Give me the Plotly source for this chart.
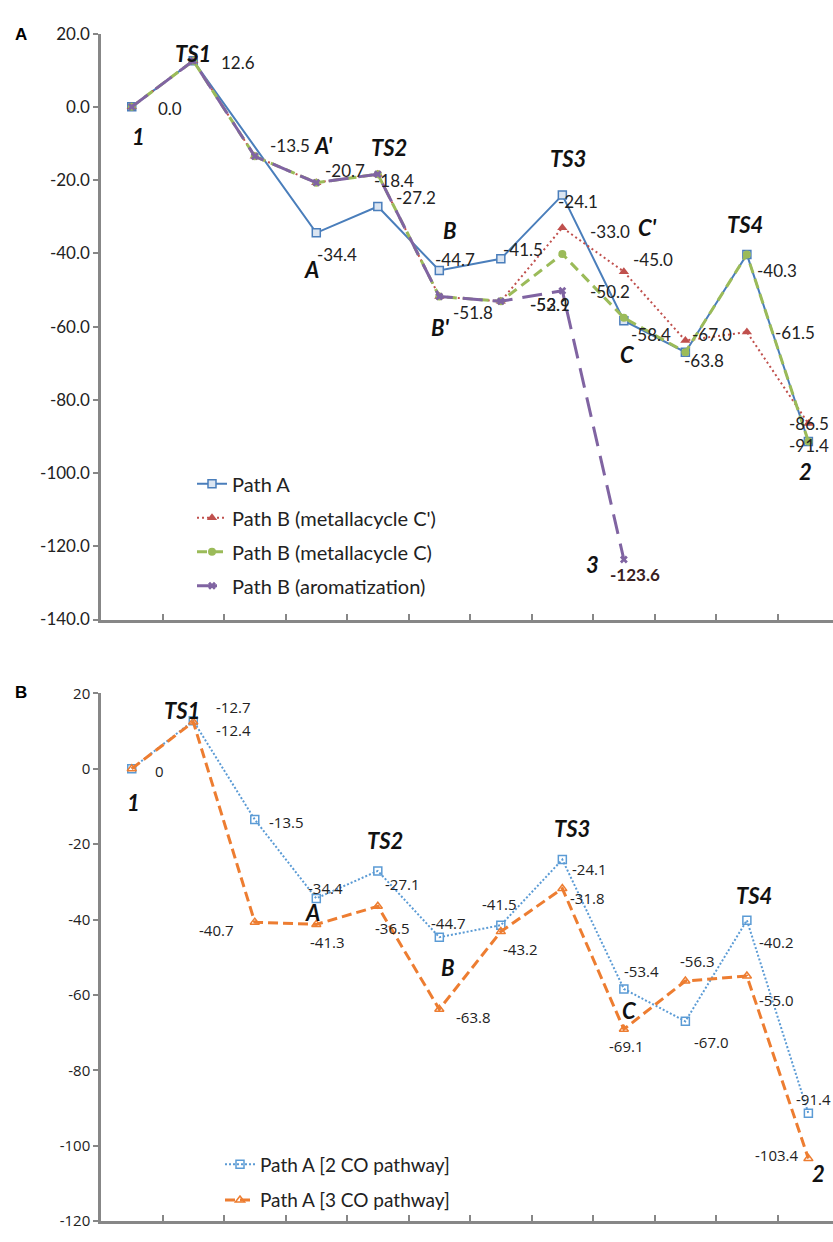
import plotly.graph_objects as go

# ---------------- data ----------------
categories = ["1", "TS1", "I1", "A", "TS2", "B", "I2", "TS3", "C", "I3", "TS4", "2"]

# Panel A
path_a = [0.0, 12.6, None, -34.4, -27.2, -44.7, -41.5, -24.1, -58.4, -67.0, -40.3, -91.4]
path_b_cprime = [0.0, 12.6, -13.5, -20.7, -18.4, -51.8, -53.1, -33.0, -45.0, -63.8, -61.5, -86.5]
path_b_c = [0.0, 12.6, -13.5, -20.7, -18.4, -51.8, -53.1, -40.2, -57.6, -67.0, -40.3, -91.4]
path_b_arom = [0.0, 12.6, -13.5, -20.7, -18.4, -51.8, -53.1, -50.2, -123.6, None, None, None]

labels_path_a = ["0.0", "12.6", None, "-34.4", "-27.2", "-44.7", "-41.5", "-24.1", "-58.4", "-67.0", "-40.3", "-91.4"]
labels_cprime = [None, None, None, None, None, None, None, "-33.0", "-45.0", "-63.8", "-61.5", "-86.5"]
labels_c = [None, None, None, None, None, None, "-52.9", None, None, None, None, None]
labels_arom = [None, None, "-13.5", "-20.7", "-18.4", "-51.8", "-53.1", "-50.2", "-123.6", None, None, None]

# Panel B
path_a_2co = [0.0, 12.7, -13.5, -34.4, -27.1, -44.7, -41.5, -24.1, -58.4, -67.0, -40.2, -91.4]
path_a_3co = [0.0, 12.4, -40.7, -41.3, -36.5, -63.8, -43.2, -31.8, -69.1, -56.3, -55.0, -103.4]

labels_2co = ["0", "-12.7", "-13.5", "-34.4", "-27.1", "-44.7", "-41.5", "-24.1", "-53.4", "-67.0", "-40.2", "-91.4"]
labels_3co = [None, "-12.4", "-40.7", "-41.3", "-36.5", "-63.8", "-43.2", "-31.8", "-69.1", "-56.3", "-55.0", "-103.4"]

tickvals_a = [20, 0, -20, -40, -60, -80, -100, -120, -140]
ticktext_a = ["20.0", "0.0", "-20.0", "-40.0", "-60.0", "-80.0", "-100.0", "-120.0", "-140.0"]
tickvals_b = [20, 0, -20, -40, -60, -80, -100, -120]
ticktext_b = ["20", "0", "-20", "-40", "-60", "-80", "-100", "-120"]

state_labels_a = ["TS1", "1", "A'", "TS2", "A", "B", "B'", "TS3", "C'", "TS4", "C", "3", "2"]
state_labels_b = ["TS1", "1", "TS2", "A", "B", "TS3", "C", "TS4", "2"]

# ---------------- layout / positions (pixels) ----------------
W, H = 833, 1242
L = 101
PW = W - L

off_path_a = [(38, 1.5), (45, 2), None, (21, 22), (38, -9), (16, -11), (22, -9), (16, 6), (27, 14), (27, -18), (30, 16), (1, 4)]
off_cprime = [None] * 7 + [(48, 4), (29, -12), (19, 20), (48, 0), (1, 0)]
off_c = [None] * 6 + [(49, 3)] + [None] * 5
off_arom = [None, None, (35, -11), (29, -12), (16, 6), (34, 16), (49, 3), (48, 1), (11, 15), None, None, None]

off_2co = [(28, 2), (40, -14), (32, 2), (9, -10), (25, 13), (9, -14), (-1, -21), (27, 9), (18, -18), (26, 21), (30, 22), (5, -14)]
off_3co = [None, (40, 8), (-38, 8), (11, 18), (15, 22), (34, 8), (20, 17), (25, 9), (3, 17), (12, -20), (30, 24), (-32, -4)]

state_pos_a = [(193, 43), (138, 128), (323, 137), (389, 139), (311, 263), (450, 223), (440, 322),
               (568, 150), (647, 220), (745, 217), (627, 349), (592, 563), (805, 468)]
state_pos_b = [(182, 712), (133, 805), (385, 844), (312, 917), (448, 973), (572, 832), (629, 1017),
               (754, 900), (818, 1183)]

FONT_A = "Lato, sans-serif"
FONT_B = "Open Sans, sans-serif"


def px_paper(px, py):
    return (px - L) / PW, 1 - py / H


fig = go.Figure()

# Panel A traces
fig.add_trace(go.Scatter(
    x=categories, y=path_a, name="Path A", mode="lines+markers", connectgaps=True,
    line=dict(color="#4a7ebb", width=2),
    marker=dict(symbol="square", size=8, color="#dbe5f1", line=dict(color="#4a7ebb", width=1.5)),
    xaxis="x", yaxis="y", legend="legend", legendgroup="a1", cliponaxis=False))
fig.add_trace(go.Scatter(
    x=categories, y=path_b_cprime, name="Path B (metallacycle C')", mode="lines+markers",
    line=dict(color="#c0504d", width=2, dash="2px,3px"),
    marker=dict(symbol="triangle-up", size=9, color="#c0504d"),
    xaxis="x", yaxis="y", legend="legend", legendgroup="a2", cliponaxis=False))
fig.add_trace(go.Scatter(
    x=categories, y=path_b_c, name="Path B (metallacycle C)", mode="lines+markers",
    line=dict(color="#9bbb59", width=3, dash="10px,6px"),
    marker=dict(symbol="circle", size=8, color="#9bbb59"),
    xaxis="x", yaxis="y", legend="legend", legendgroup="a3", cliponaxis=False))
fig.add_trace(go.Scatter(
    x=categories, y=path_b_arom, name="Path B (aromatization)", mode="lines+markers",
    line=dict(color="#8064a2", width=3, dash="20px,10px"),
    marker=dict(symbol="x", size=7, color="#8064a2"),
    xaxis="x", yaxis="y", legend="legend", legendgroup="a4", cliponaxis=False))

# Panel B traces
fig.add_trace(go.Scatter(
    x=categories, y=path_a_2co, name="Path A [2 CO pathway]", mode="lines+markers",
    line=dict(color="#5b9bd5", width=2, dash="2px,2px"),
    marker=dict(symbol="square-open", size=8, color="#5b9bd5", line=dict(width=1.5)),
    xaxis="x2", yaxis="y2", legend="legend2", legendgroup="b1", cliponaxis=False))
fig.add_trace(go.Scatter(
    x=categories, y=path_a_3co, name="Path A [3 CO pathway]", mode="lines+markers",
    line=dict(color="#ed7d31", width=3, dash="10px,5px"),
    marker=dict(symbol="triangle-up-open", size=8, color="#ed7d31", line=dict(width=1.5)),
    xaxis="x2", yaxis="y2", legend="legend2", legendgroup="b2", cliponaxis=False))

annotations = []


def add_value_labels(values, labels, offsets, xref, yref, font, size, color="#222", bold=False):
    for i, (v, t, o) in enumerate(zip(values, labels, offsets)):
        if t is None or v is None or o is None:
            continue
        txt = "<b>%s</b>" % t if bold else t
        annotations.append(dict(
            x=i, y=v, xref=xref, yref=yref, text=txt, showarrow=False,
            xanchor="center", yanchor="middle", xshift=o[0], yshift=-o[1],
            font=dict(family=font, size=size, color=color)))


add_value_labels(path_a, labels_path_a, off_path_a, "x", "y", FONT_A, 17)
add_value_labels(path_b_cprime, labels_cprime, off_cprime, "x", "y", FONT_A, 17)
add_value_labels(path_b_c, labels_c, off_c, "x", "y", FONT_A, 17)
arom_plain = [t if i != 8 else None for i, t in enumerate(labels_arom)]
arom_bold = [t if i == 8 else None for i, t in enumerate(labels_arom)]
add_value_labels(path_b_arom, arom_plain, off_arom, "x", "y", FONT_A, 17)
add_value_labels(path_b_arom, arom_bold, off_arom, "x", "y", FONT_A, 17, color="#3a2020", bold=True)

add_value_labels(path_a_2co, labels_2co, off_2co, "x2", "y2", FONT_B, 15)
add_value_labels(path_a_3co, labels_3co, off_3co, "x2", "y2", FONT_B, 15)

for labels, positions in ((state_labels_a, state_pos_a), (state_labels_b, state_pos_b)):
    for t, (px, py) in zip(labels, positions):
        xp, yp = px_paper(px, py)
        annotations.append(dict(x=xp, y=yp, xref="paper", yref="paper", text="<b><i>%s</i></b>" % t,
                                showarrow=False, xanchor="center", yanchor="middle",
                                font=dict(family="Lato, sans-serif", size=22, color="#111")))

for t, (px, py) in zip(["A", "B"], [(21, 24), (21, 693)]):
    xp, yp = px_paper(px, py)
    annotations.append(dict(x=xp, y=yp, xref="paper", yref="paper", text="<b>%s</b>" % t,
                            showarrow=False, xanchor="center", yanchor="middle",
                            font=dict(family="Liberation Sans, Arial, sans-serif", size=17, color="#000")))

axis_gray = "#878787"
xcommon = dict(type="category", categoryorder="array", categoryarray=categories,
               range=[-0.5, 11.4], tickson="boundaries", ticks="inside", ticklen=6,
               tickwidth=1.5, tickcolor=axis_gray, showticklabels=False, showgrid=False,
               zeroline=False, showline=True, linecolor=axis_gray, domain=[0, 1])
ycommon = dict(ticks="outside", ticklen=5, tickwidth=1.5, tickcolor=axis_gray, showgrid=False,
               zeroline=False, showline=True, linecolor=axis_gray, linewidth=2.5)

fig.update_layout(
    width=W, height=H,
    margin=dict(l=L, r=0, t=0, b=0),
    paper_bgcolor="white", plot_bgcolor="white",
    xaxis=dict(xcommon, anchor="y", linewidth=3),
    yaxis=dict(ycommon, anchor="x", domain=[1 - 619 / H, 1 - 23 / H], range=[-140, 20],
               tickvals=tickvals_a, ticktext=ticktext_a,
               tickfont=dict(family=FONT_A, size=17, color="#222")),
    xaxis2=dict(xcommon, anchor="y2", linewidth=2.5),
    yaxis2=dict(ycommon, anchor="x2", domain=[1 - 1231 / H, 1 - 694 / H], range=[-120, 20],
                tickvals=tickvals_b, ticktext=ticktext_b,
                tickfont=dict(family=FONT_B, size=15, color="#222")),
    legend=dict(x=(192 - L) / PW, y=1 - 461 / H, xanchor="left", yanchor="top",
                bgcolor="rgba(0,0,0,0)", tracegroupgap=5,
                font=dict(family=FONT_A, size=20, color="#222")),
    legend2=dict(x=(220 - L) / PW, y=1 - 1154 / H, xanchor="left", yanchor="top",
                 bgcolor="rgba(0,0,0,0)", tracegroupgap=8,
                 font=dict(family=FONT_A, size=19, color="#222")),
    annotations=annotations,
    showlegend=True,
)

fig.write_html("out.html", config={"displayModeBar": False},
               post_script="document.body.style.margin='0';document.body.style.overflow='hidden';")
